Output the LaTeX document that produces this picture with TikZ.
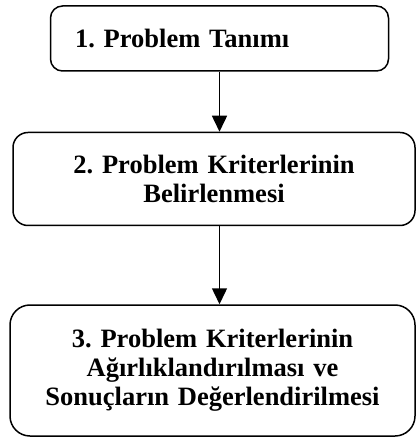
\documentclass[tikz,border=0pt]{standalone}
\usepackage{fontspec}
\setmainfont{Liberation Serif}
\usetikzlibrary{positioning,arrows.meta}
\frenchspacing

\begin{document}
\begin{tikzpicture}[
  x=0.5pt, y=-0.5pt,
  stepbox/.style={draw, line width=0.75pt, align=center, inner sep=0pt, font=\bfseries\fontsize{13.25}{14.4}\selectfont},
  arrow/.style={-{Triangle[width=7.5pt,length=8pt]}, line width=0.75pt}
]
  \useasboundingbox (0,0) rectangle (416,437);

  \node[stepbox, rounded corners=6pt, align=left, text width=144.5pt, inner xsep=12.25pt, minimum height=32.5pt] (tanim) at (219.5,38.5) {1. Problem Tanımı};
  \node[stepbox, rounded corners=7.5pt, text width=201pt, minimum height=46.5pt, below=30pt of tanim, xshift=-2.75pt] (kriter) {2. Problem Kriterlerinin\\Belirlenmesi};
  \node[stepbox, rounded corners=10pt, text width=202.5pt, minimum height=65.5pt, below=39pt of kriter, xshift=-0.75pt] (agirlik) {3. Problem Kriterlerinin\\Ağırlıklandırılması ve\\Sonuçların Değerlendirilmesi};

  \draw[arrow] (tanim.south) -- (tanim.south |- kriter.north);
  \draw[arrow] (kriter.south -| tanim.south) -- (tanim.south |- agirlik.north);
\end{tikzpicture}
\end{document}
